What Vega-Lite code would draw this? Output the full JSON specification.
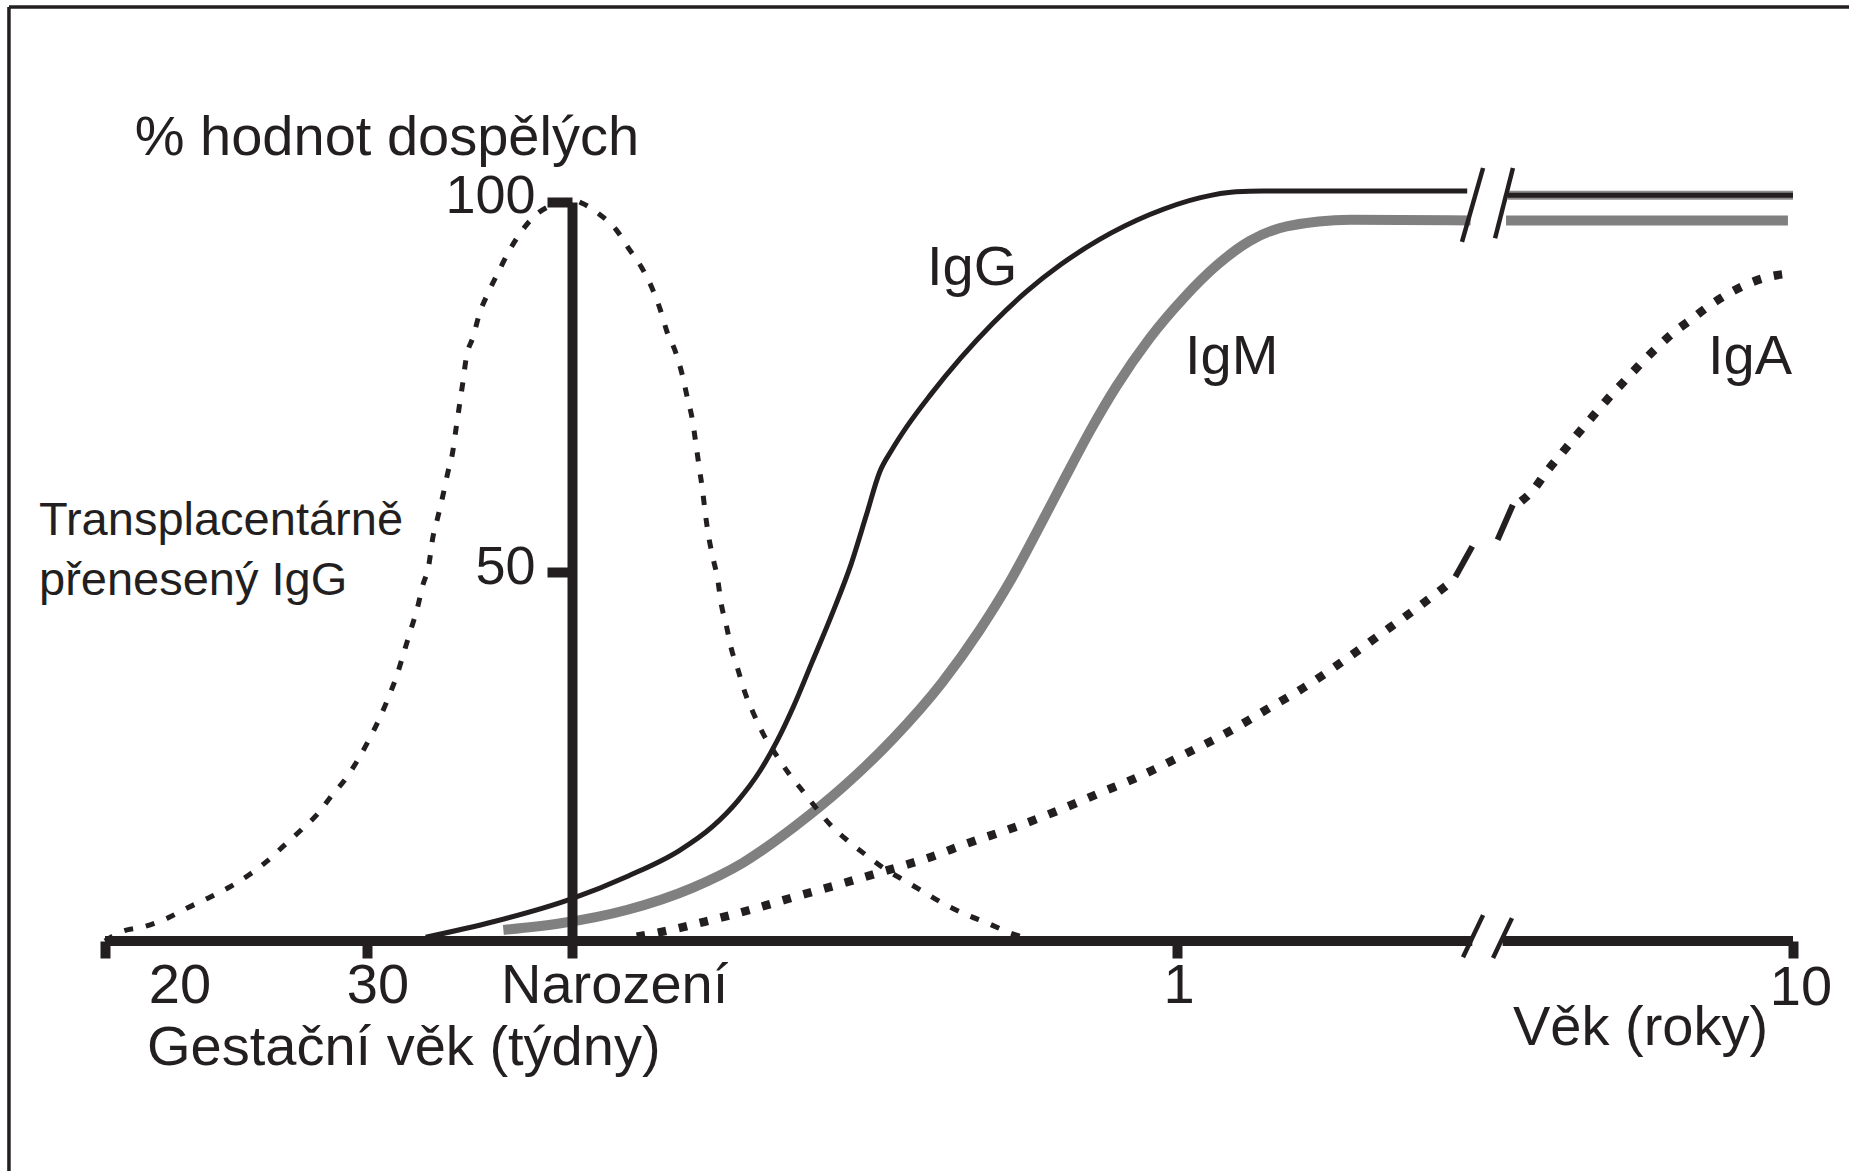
{
  "$schema": "https://vega.github.io/schema/vega-lite/v6.json",
  "autosize": {"type": "none"},
  "width": 1688,
  "height": 739,
  "padding": {"left": 105, "top": 202, "right": 56, "bottom": 230},
  "background": "white",
  "config": {"view": {"stroke": null}, "font": "Liberation Sans"},
  "datasets": {
    "krivky": [
      {"krivka": "transplacentarni", "t": 0.0, "y": 0.0},
      {"krivka": "transplacentarni", "t": 0.9, "y": 1.2},
      {"krivka": "transplacentarni", "t": 2.4, "y": 2.0},
      {"krivka": "transplacentarni", "t": 3.7, "y": 3.1},
      {"krivka": "transplacentarni", "t": 4.9, "y": 4.5},
      {"krivka": "transplacentarni", "t": 6.1, "y": 5.8},
      {"krivka": "transplacentarni", "t": 7.3, "y": 7.2},
      {"krivka": "transplacentarni", "t": 8.5, "y": 8.9},
      {"krivka": "transplacentarni", "t": 9.6, "y": 10.8},
      {"krivka": "transplacentarni", "t": 10.6, "y": 12.9},
      {"krivka": "transplacentarni", "t": 11.7, "y": 15.2},
      {"krivka": "transplacentarni", "t": 12.6, "y": 17.2},
      {"krivka": "transplacentarni", "t": 13.4, "y": 19.6},
      {"krivka": "transplacentarni", "t": 14.3, "y": 22.1},
      {"krivka": "transplacentarni", "t": 15.0, "y": 24.6},
      {"krivka": "transplacentarni", "t": 15.7, "y": 27.5},
      {"krivka": "transplacentarni", "t": 16.3, "y": 30.3},
      {"krivka": "transplacentarni", "t": 16.8, "y": 33.0},
      {"krivka": "transplacentarni", "t": 17.3, "y": 36.0},
      {"krivka": "transplacentarni", "t": 17.7, "y": 39.0},
      {"krivka": "transplacentarni", "t": 18.1, "y": 42.0},
      {"krivka": "transplacentarni", "t": 18.5, "y": 45.0},
      {"krivka": "transplacentarni", "t": 18.8, "y": 47.9},
      {"krivka": "transplacentarni", "t": 19.2, "y": 51.1},
      {"krivka": "transplacentarni", "t": 19.4, "y": 54.3},
      {"krivka": "transplacentarni", "t": 19.7, "y": 57.2},
      {"krivka": "transplacentarni", "t": 20.0, "y": 60.1},
      {"krivka": "transplacentarni", "t": 20.3, "y": 63.3},
      {"krivka": "transplacentarni", "t": 20.6, "y": 66.2},
      {"krivka": "transplacentarni", "t": 20.8, "y": 69.4},
      {"krivka": "transplacentarni", "t": 21.0, "y": 72.5},
      {"krivka": "transplacentarni", "t": 21.2, "y": 75.6},
      {"krivka": "transplacentarni", "t": 21.4, "y": 78.9},
      {"krivka": "transplacentarni", "t": 21.8, "y": 81.7},
      {"krivka": "transplacentarni", "t": 22.2, "y": 85.0},
      {"krivka": "transplacentarni", "t": 22.7, "y": 87.7},
      {"krivka": "transplacentarni", "t": 23.3, "y": 90.5},
      {"krivka": "transplacentarni", "t": 23.9, "y": 93.2},
      {"krivka": "transplacentarni", "t": 24.6, "y": 95.8},
      {"krivka": "transplacentarni", "t": 25.5, "y": 98.2},
      {"krivka": "transplacentarni", "t": 26.5, "y": 99.6},
      {"krivka": "transplacentarni", "t": 27.67, "y": 100.3},
      {"krivka": "transplacentarni", "t": 28.3, "y": 99.8},
      {"krivka": "transplacentarni", "t": 29.2, "y": 98.5},
      {"krivka": "transplacentarni", "t": 30.3, "y": 96.2},
      {"krivka": "transplacentarni", "t": 31.0, "y": 93.8},
      {"krivka": "transplacentarni", "t": 31.8, "y": 91.1},
      {"krivka": "transplacentarni", "t": 32.4, "y": 88.4},
      {"krivka": "transplacentarni", "t": 32.9, "y": 85.4},
      {"krivka": "transplacentarni", "t": 33.3, "y": 82.4},
      {"krivka": "transplacentarni", "t": 33.8, "y": 79.7},
      {"krivka": "transplacentarni", "t": 34.2, "y": 76.6},
      {"krivka": "transplacentarni", "t": 34.5, "y": 73.5},
      {"krivka": "transplacentarni", "t": 34.8, "y": 70.5},
      {"krivka": "transplacentarni", "t": 35.0, "y": 67.4},
      {"krivka": "transplacentarni", "t": 35.2, "y": 64.1},
      {"krivka": "transplacentarni", "t": 35.4, "y": 61.0},
      {"krivka": "transplacentarni", "t": 35.55, "y": 58.1},
      {"krivka": "transplacentarni", "t": 35.75, "y": 54.9},
      {"krivka": "transplacentarni", "t": 36.0, "y": 52.0},
      {"krivka": "transplacentarni", "t": 36.3, "y": 48.9},
      {"krivka": "transplacentarni", "t": 36.5, "y": 45.7},
      {"krivka": "transplacentarni", "t": 36.8, "y": 42.8},
      {"krivka": "transplacentarni", "t": 37.1, "y": 39.6},
      {"krivka": "transplacentarni", "t": 37.5, "y": 36.7},
      {"krivka": "transplacentarni", "t": 37.9, "y": 33.7},
      {"krivka": "transplacentarni", "t": 38.4, "y": 30.9},
      {"krivka": "transplacentarni", "t": 39.0, "y": 28.0},
      {"krivka": "transplacentarni", "t": 39.7, "y": 25.4},
      {"krivka": "transplacentarni", "t": 40.5, "y": 22.7},
      {"krivka": "transplacentarni", "t": 41.3, "y": 20.4},
      {"krivka": "transplacentarni", "t": 42.2, "y": 17.8},
      {"krivka": "transplacentarni", "t": 43.1, "y": 15.4},
      {"krivka": "transplacentarni", "t": 44.1, "y": 13.4},
      {"krivka": "transplacentarni", "t": 45.1, "y": 11.6},
      {"krivka": "transplacentarni", "t": 46.1, "y": 9.9},
      {"krivka": "transplacentarni", "t": 47.5, "y": 8.0},
      {"krivka": "transplacentarni", "t": 48.6, "y": 6.5},
      {"krivka": "transplacentarni", "t": 49.8, "y": 4.9},
      {"krivka": "transplacentarni", "t": 51.1, "y": 3.5},
      {"krivka": "transplacentarni", "t": 52.3, "y": 2.4},
      {"krivka": "transplacentarni", "t": 53.5, "y": 1.2},
      {"krivka": "transplacentarni", "t": 54.7, "y": 0.3},

      {"krivka": "IgG", "t": 19.0, "y": 0.5},
      {"krivka": "IgG", "t": 23.0, "y": 2.6},
      {"krivka": "IgG", "t": 27.5, "y": 5.6},
      {"krivka": "IgG", "t": 31.0, "y": 8.8},
      {"krivka": "IgG", "t": 34.0, "y": 12.2},
      {"krivka": "IgG", "t": 36.0, "y": 15.5},
      {"krivka": "IgG", "t": 37.5, "y": 19.0},
      {"krivka": "IgG", "t": 38.8, "y": 23.0},
      {"krivka": "IgG", "t": 39.8, "y": 27.0},
      {"krivka": "IgG", "t": 40.8, "y": 31.8},
      {"krivka": "IgG", "t": 41.9, "y": 37.8},
      {"krivka": "IgG", "t": 43.1, "y": 44.4},
      {"krivka": "IgG", "t": 44.2, "y": 51.0},
      {"krivka": "IgG", "t": 45.1, "y": 57.6},
      {"krivka": "IgG", "t": 45.9, "y": 63.5},
      {"krivka": "IgG", "t": 46.6, "y": 66.4},
      {"krivka": "IgG", "t": 47.5, "y": 69.6},
      {"krivka": "IgG", "t": 48.9, "y": 73.9},
      {"krivka": "IgG", "t": 50.7, "y": 78.9},
      {"krivka": "IgG", "t": 52.6, "y": 83.6},
      {"krivka": "IgG", "t": 54.6, "y": 87.9},
      {"krivka": "IgG", "t": 56.6, "y": 91.5},
      {"krivka": "IgG", "t": 58.9, "y": 94.9},
      {"krivka": "IgG", "t": 61.9, "y": 98.3},
      {"krivka": "IgG", "t": 64.9, "y": 100.6},
      {"krivka": "IgG", "t": 67.0, "y": 101.4},
      {"krivka": "IgG", "t": 68.6, "y": 101.5},
      {"krivka": "IgG", "t": 80.7, "y": 101.5},

      {"krivka": "IgG po zlomu", "t": 83.1, "y": 100.9},
      {"krivka": "IgG po zlomu", "t": 100.0, "y": 100.9},

      {"krivka": "IgM", "t": 23.6, "y": 1.5},
      {"krivka": "IgM", "t": 27.0, "y": 2.4},
      {"krivka": "IgM", "t": 30.9, "y": 4.2},
      {"krivka": "IgM", "t": 34.8, "y": 7.2},
      {"krivka": "IgM", "t": 37.8, "y": 10.6},
      {"krivka": "IgM", "t": 40.8, "y": 15.4},
      {"krivka": "IgM", "t": 43.7, "y": 20.8},
      {"krivka": "IgM", "t": 46.7, "y": 27.4},
      {"krivka": "IgM", "t": 49.6, "y": 35.0},
      {"krivka": "IgM", "t": 51.8, "y": 42.0},
      {"krivka": "IgM", "t": 53.6, "y": 48.6},
      {"krivka": "IgM", "t": 55.3, "y": 55.8},
      {"krivka": "IgM", "t": 56.9, "y": 62.8},
      {"krivka": "IgM", "t": 58.4, "y": 69.2},
      {"krivka": "IgM", "t": 59.9, "y": 75.0},
      {"krivka": "IgM", "t": 61.9, "y": 81.6},
      {"krivka": "IgM", "t": 63.9, "y": 87.0},
      {"krivka": "IgM", "t": 65.9, "y": 91.5},
      {"krivka": "IgM", "t": 67.8, "y": 94.7},
      {"krivka": "IgM", "t": 70.0, "y": 96.7},
      {"krivka": "IgM", "t": 73.8, "y": 97.6},
      {"krivka": "IgM", "t": 80.9, "y": 97.5},

      {"krivka": "IgM po zlomu", "t": 83.0, "y": 97.5},
      {"krivka": "IgM po zlomu", "t": 99.7, "y": 97.5},

      {"krivka": "IgA", "t": 31.5, "y": 0.6},
      {"krivka": "IgA", "t": 32.9, "y": 1.2},
      {"krivka": "IgA", "t": 35.5, "y": 2.6},
      {"krivka": "IgA", "t": 38.2, "y": 4.2},
      {"krivka": "IgA", "t": 40.9, "y": 6.0},
      {"krivka": "IgA", "t": 43.4, "y": 7.6},
      {"krivka": "IgA", "t": 46.1, "y": 9.4},
      {"krivka": "IgA", "t": 48.7, "y": 11.2},
      {"krivka": "IgA", "t": 51.2, "y": 13.3},
      {"krivka": "IgA", "t": 53.9, "y": 15.4},
      {"krivka": "IgA", "t": 56.4, "y": 17.6},
      {"krivka": "IgA", "t": 58.9, "y": 20.0},
      {"krivka": "IgA", "t": 61.5, "y": 22.5},
      {"krivka": "IgA", "t": 63.9, "y": 25.2},
      {"krivka": "IgA", "t": 66.4, "y": 28.1},
      {"krivka": "IgA", "t": 68.8, "y": 31.3},
      {"krivka": "IgA", "t": 71.1, "y": 34.4},
      {"krivka": "IgA", "t": 73.3, "y": 37.8},
      {"krivka": "IgA", "t": 75.5, "y": 41.4},
      {"krivka": "IgA", "t": 77.8, "y": 45.2},
      {"krivka": "IgA", "t": 78.9, "y": 47.1},
      {"krivka": "IgA", "t": 80.0, "y": 49.0},

      {"krivka": "IgA po zlomu", "t": 83.9, "y": 59.5},
      {"krivka": "IgA po zlomu", "t": 84.6, "y": 61.0},
      {"krivka": "IgA po zlomu", "t": 85.4, "y": 63.5},
      {"krivka": "IgA po zlomu", "t": 86.3, "y": 66.0},
      {"krivka": "IgA po zlomu", "t": 87.2, "y": 68.5},
      {"krivka": "IgA po zlomu", "t": 88.1, "y": 70.9},
      {"krivka": "IgA po zlomu", "t": 89.0, "y": 73.3},
      {"krivka": "IgA po zlomu", "t": 89.9, "y": 75.5},
      {"krivka": "IgA po zlomu", "t": 90.8, "y": 77.7},
      {"krivka": "IgA po zlomu", "t": 91.8, "y": 80.0},
      {"krivka": "IgA po zlomu", "t": 92.8, "y": 82.1},
      {"krivka": "IgA po zlomu", "t": 93.9, "y": 84.0},
      {"krivka": "IgA po zlomu", "t": 95.0, "y": 85.9},
      {"krivka": "IgA po zlomu", "t": 96.1, "y": 87.5},
      {"krivka": "IgA po zlomu", "t": 97.3, "y": 88.9},
      {"krivka": "IgA po zlomu", "t": 98.6, "y": 89.9},
      {"krivka": "IgA po zlomu", "t": 99.7, "y": 90.3}
    ],
    "useky": [
      {"prvek": "osa x", "t": 0, "t2": 81.0, "y": 0, "y2": 0},
      {"prvek": "osa x", "t": 82.8, "t2": 100, "y": 0, "y2": 0},
      {"prvek": "zlom", "t": 80.39, "t2": 81.64, "y": 94.6, "y2": 104.6},
      {"prvek": "zlom", "t": 82.35, "t2": 83.41, "y": 95.1, "y2": 104.6},
      {"prvek": "zlom", "t": 80.45, "t2": 81.64, "y": -2.2, "y2": 3.5},
      {"prvek": "zlom", "t": 82.23, "t2": 83.35, "y": -2.3, "y2": 3.1},
      {"prvek": "zlom IgA", "t": 80.0, "t2": 81.0, "y": 49.3, "y2": 53.4},
      {"prvek": "zlom IgA", "t": 82.5, "t2": 83.4, "y": 54.3, "y2": 59.0},
      {"prvek": "rám", "t": -5.69, "t2": -5.69, "y": -31.2, "y2": 126.4},
      {"prvek": "rám", "t": -5.69, "t2": 103.4, "y": 126.4, "y2": 126.4}
    ],
    "texty": [
      {"text": "% hodnot dospělých", "t": 16.7, "y": 106.4, "typ": "střed"},
      {"text": "20", "t": 4.44, "y": -8.4, "typ": "střed"},
      {"text": "30", "t": 16.17, "y": -8.4, "typ": "střed"},
      {"text": "1", "t": 63.63, "y": -8.4, "typ": "střed"},
      {"text": "10", "t": 100.47, "y": -8.7, "typ": "střed"},
      {"text": "Narození", "t": 23.46, "y": -8.4, "typ": "vlevo"},
      {"text": "Gestační věk (týdny)", "t": 2.49, "y": -16.8, "typ": "vlevo"},
      {"text": "Věk (roky)", "t": 83.41, "y": -14.1, "typ": "vlevo"},
      {"text": "IgG", "t": 48.7, "y": 88.8, "typ": "vlevo"},
      {"text": "IgM", "t": 63.98, "y": 76.7, "typ": "vlevo"},
      {"text": "IgA", "t": 94.96, "y": 76.7, "typ": "vlevo"},
      {"text": "Transplacentárně", "t": -3.91, "y": 54.9, "typ": "poznámka"},
      {"text": "přenesený IgG", "t": -3.91, "y": 46.8, "typ": "poznámka"}
    ]
  },
  "encoding": {
    "x": {
      "field": "t", "type": "quantitative",
      "scale": {"domain": [0, 100], "nice": false, "zero": false},
      "axis": {
        "values": [0, 15.5, 27.67, 63.5, 100],
        "labels": false, "domain": false, "grid": false, "title": null,
        "tickSize": 17, "tickWidth": 10, "tickColor": "#231f20", "tickCap": "butt"
      }
    },
    "y": {
      "field": "y", "type": "quantitative",
      "scale": {"domain": [0, 100], "nice": false, "zero": false},
      "axis": {
        "values": [50, 100], "offset": -467, "zindex": 1,
        "grid": false, "title": null,
        "domain": true, "domainWidth": 10, "domainColor": "#231f20", "domainCap": "butt",
        "tickSize": 25, "tickWidth": 10, "tickColor": "#231f20",
        "labelFont": "Liberation Sans", "labelFontSize": 54, "labelColor": "#231f20",
        "labelPadding": 12, "labelBaseline": "middle",
        "labelOffset": {"condition": {"test": "datum.value == 100", "value": -6}, "value": -4}
      }
    }
  },
  "layer": [
    {
      "data": {"name": "krivky"},
      "transform": [{"filter": "datum.krivka == 'IgM' || datum.krivka == 'IgM po zlomu'"}],
      "mark": {"type": "line", "color": "#808080", "strokeWidth": 10, "interpolate": "monotone", "strokeCap": "butt"},
      "encoding": {"detail": {"field": "krivka"}}
    },
    {
      "data": {"name": "krivky"},
      "transform": [{"filter": "datum.krivka == 'IgG po zlomu'"}],
      "mark": {"type": "line", "color": "#8c8c8c", "strokeWidth": 9, "strokeCap": "butt"}
    },
    {
      "data": {"name": "krivky"},
      "transform": [{"filter": "datum.krivka == 'IgG' || datum.krivka == 'IgG po zlomu'"}],
      "mark": {"type": "line", "color": "#231f20", "strokeWidth": 5, "interpolate": "monotone", "strokeCap": "butt"},
      "encoding": {"detail": {"field": "krivka"}}
    },
    {
      "data": {"name": "krivky"},
      "transform": [{"filter": "datum.krivka == 'transplacentarni'"}],
      "mark": {"type": "line", "color": "#231f20", "strokeWidth": 5, "interpolate": "monotone", "strokeDash": [9, 13], "strokeCap": "butt"}
    },
    {
      "data": {"name": "krivky"},
      "transform": [{"filter": "datum.krivka == 'IgA' || datum.krivka == 'IgA po zlomu'"}],
      "mark": {"type": "line", "color": "#231f20", "strokeWidth": 8.5, "interpolate": "monotone", "strokeDash": [8.5, 13], "strokeCap": "butt"},
      "encoding": {"detail": {"field": "krivka"}}
    },
    {
      "data": {"name": "useky"},
      "transform": [{"filter": "datum.prvek == 'osa x'"}],
      "mark": {"type": "rule", "color": "#231f20", "strokeWidth": 10, "strokeCap": "butt"},
      "encoding": {"x2": {"field": "t2"}, "y2": {"field": "y2"}}
    },
    {
      "data": {"name": "useky"},
      "transform": [{"filter": "datum.prvek == 'zlom'"}],
      "mark": {"type": "rule", "color": "#231f20", "strokeWidth": 4.5, "strokeCap": "butt"},
      "encoding": {"x2": {"field": "t2"}, "y2": {"field": "y2"}}
    },
    {
      "data": {"name": "useky"},
      "transform": [{"filter": "datum.prvek == 'zlom IgA'"}],
      "mark": {"type": "rule", "color": "#231f20", "strokeWidth": 6, "strokeCap": "butt"},
      "encoding": {"x2": {"field": "t2"}, "y2": {"field": "y2"}}
    },
    {
      "data": {"name": "useky"},
      "transform": [{"filter": "datum.prvek == 'rám'"}],
      "mark": {"type": "rule", "color": "#231f20", "strokeWidth": 3.5, "strokeCap": "butt"},
      "encoding": {"x2": {"field": "t2"}, "y2": {"field": "y2"}}
    },
    {
      "data": {"name": "texty"},
      "transform": [{"filter": "datum.typ == 'střed'"}],
      "mark": {"type": "text", "align": "center", "baseline": "alphabetic", "font": "Liberation Sans", "fontSize": 56, "color": "#231f20"},
      "encoding": {"text": {"field": "text"}}
    },
    {
      "data": {"name": "texty"},
      "transform": [{"filter": "datum.typ == 'vlevo'"}],
      "mark": {"type": "text", "align": "left", "baseline": "alphabetic", "font": "Liberation Sans", "fontSize": 56, "color": "#231f20"},
      "encoding": {"text": {"field": "text"}}
    },
    {
      "data": {"name": "texty"},
      "transform": [{"filter": "datum.typ == 'poznámka'"}],
      "mark": {"type": "text", "align": "left", "baseline": "alphabetic", "font": "Liberation Sans", "fontSize": 47, "color": "#231f20"},
      "encoding": {"text": {"field": "text"}}
    }
  ]
}
